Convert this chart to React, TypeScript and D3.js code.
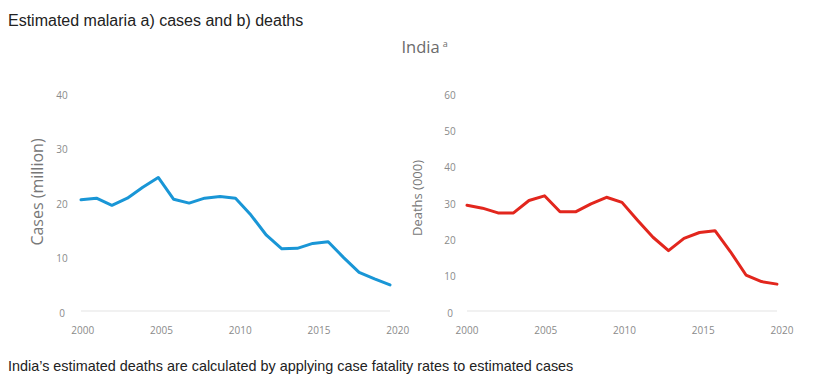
import React from "react";
import * as d3 from "d3";

const years = d3.range(2000, 2021);
const cases = [20.4, 20.7, 19.4, 20.7, 22.7, 24.5, 20.5, 19.8, 20.7, 21.0, 20.7, 17.6, 13.9, 11.4, 11.5, 12.4, 12.7, 9.8, 7.1, 5.9, 4.8];
const deaths = [29.1, 28.3, 27.0, 27.0, 30.4, 31.7, 27.3, 27.3, 29.5, 31.3, 29.9, 25.0, 20.3, 16.6, 20.0, 21.6, 22.1, 16.3, 9.9, 8.1, 7.4];
const xTicks = [2000, 2005, 2010, 2015, 2020];
const casesTicks = [0, 10, 20, 30, 40];
const deathsTicks = [0, 10, 20, 30, 40, 50, 60];

const titleText = "Estimated malaria a) cases and b) deaths";
const footerText = "India\u2019s estimated deaths are calculated by applying case fatality rates to estimated cases";

type PanelProps = {
  values: number[];
  ticks: number[];
  yMax: number;
  x0: number;
  x1: number;
  lx0: number;
  lx1: number;
  tickX: number;
  label: string;
  labelX: number;
  labelY: number;
  labelSize: number;
  color: string;
};

function Panel(p: PanelProps) {
  const x = d3.scaleLinear().domain([2000, 2020]).range([p.x0, p.x1]);
  const xl = d3.scaleLinear().domain([2000, 2020]).range([p.lx0, p.lx1]);
  const y = d3.scaleLinear().domain([0, p.yMax]).range([311, 93]);
  const line = d3
    .line<number>()
    .x((_, i) => x(years[i]))
    .y((d) => y(d));
  const font = "'Open Sans', sans-serif";
  return (
    <g>
      <line x1={x(2000)} x2={x(2020)} y1={y(0)} y2={y(0)} stroke="#e3e3e3" strokeWidth={1} />
      {p.ticks.map((t) => (
        <text key={t} x={p.tickX} y={y(t) + 2} dy="0.35em" textAnchor="middle" fontSize={10} fill="#8a8a8a" fontFamily={font}>
          {t}
        </text>
      ))}
      {xTicks.map((t) => (
        <text key={t} x={xl(t)} y={330} dy="0.35em" textAnchor="middle" fontSize={10} fill="#8a8a8a" fontFamily={font}>
          {t}
        </text>
      ))}
      <text
        transform={`translate(${p.labelX},${p.labelY}) rotate(-90)`}
        textAnchor="middle"
        dy="0.35em"
        fontSize={p.labelSize}
        fill="#777"
        fontFamily={font}
      >
        {p.label}
      </text>
      <path d={line(p.values) || ""} fill="none" stroke={p.color} strokeWidth={3} strokeLinejoin="round" strokeLinecap="round" />
    </g>
  );
}

export default function App() {
  return (
    <svg
      width={822}
      height={382}
      style={{ position: "absolute", left: 0, top: 0, display: "block", background: "#fff" }}
    >
      <text x={8} y={26} fontSize={16} fill="#222" fontFamily="'Liberation Sans', Arial, sans-serif">
        {titleText}
      </text>
      <text x={401.5} y={53} fontSize={16.5} fill="#6b6b6b" fontFamily="'Open Sans', sans-serif">
        India
        <tspan fontSize={9} dx={3} dy={-6}>a</tspan>
      </text>
      <Panel
        values={cases}
        ticks={casesTicks}
        yMax={40}
        x0={81}
        x1={390}
        lx0={82.7}
        lx1={397.8}
        tickX={62}
        label="Cases (million)"
        labelX={37}
        labelY={192}
        labelSize={16}
        color="#1996d6"
      />
      <Panel
        values={deaths}
        ticks={deathsTicks}
        yMax={60}
        x0={467}
        x1={777}
        lx0={467}
        lx1={782}
        tickX={450}
        label="Deaths (000)"
        labelX={417}
        labelY={198}
        labelSize={13}
        color="#e2261d"
      />
      <text x={8} y={371} fontSize={14.4} fill="#222" fontFamily="'Liberation Sans', Arial, sans-serif">
        {footerText}
      </text>
    </svg>
  );
}
